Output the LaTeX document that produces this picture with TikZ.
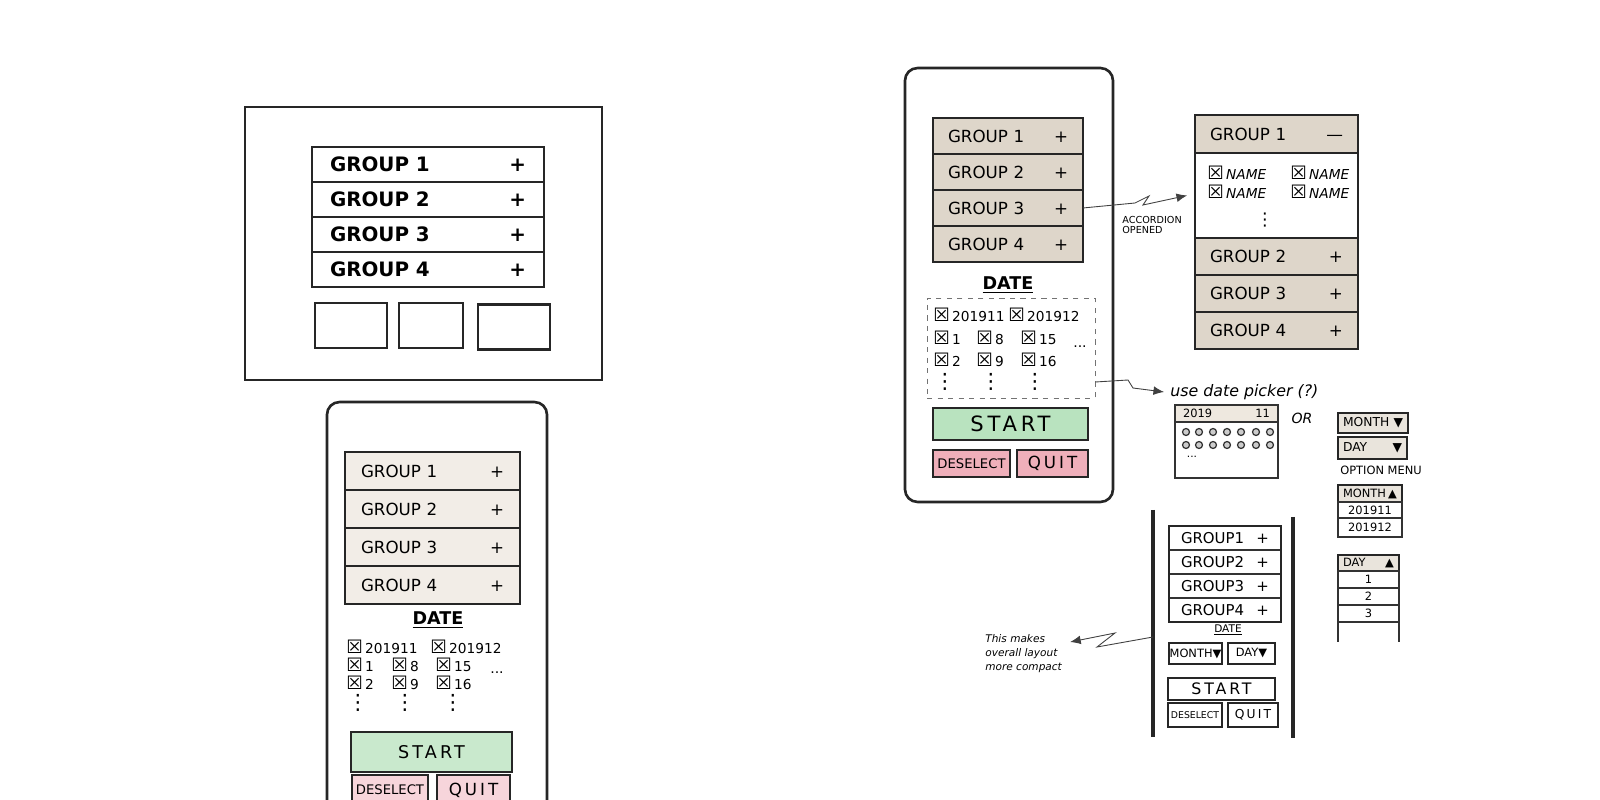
\documentclass[tikz,border=0pt]{standalone}
\usepackage{fontspec}
\setmainfont{DejaVu Sans}
\usepackage{xcolor}
\usepackage{tikz}
\usetikzlibrary{positioning,arrows.meta}

\definecolor{tanfill}{HTML}{DED6CA}
\definecolor{beigefill}{HTML}{F2EDE7}
\definecolor{startfill}{HTML}{C9E9CD}
\definecolor{startfillb}{HTML}{B9E3BF}
\definecolor{stopfill}{HTML}{F7D5DB}
\definecolor{stopfillb}{HTML}{EFAFBA}
\definecolor{optfill}{HTML}{E9E4DC}
\definecolor{calfill}{HTML}{EEE8DF}

\newcommand{\fsz}[1]{\fontsize{#1}{#1}\selectfont}
\newcommand{\spaced}{\addfontfeature{LetterSpace=18}}
\newcommand{\chk}{{\fontsize{10.5}{10}\selectfont ☒}}

\begin{document}
\begin{tikzpicture}[
    x=0.02cm, y=-0.02cm,
    font=\fsz{9.5},
    ink/.style={draw=black!85, line width=1.5pt},
    fine/.style={draw=black!80, line width=0.7pt},
    row/.style={ink, outer sep=0pt, inner ysep=0pt, align=left},
    dkrow/.style={row, text width=3.92cm, inner xsep=0.36cm, minimum height=0.7cm, font=\fsz{11.3}\bfseries},
    arow/.style={row, text width=2.86cm, inner xsep=0.32cm, minimum height=0.76cm, fill=beigefill},
    brow/.style={row, text width=2.4cm, inner xsep=0.3cm, minimum height=0.72cm, fill=tanfill},
    prow/.style={row, text width=2.66cm, inner xsep=0.3cm, minimum height=0.74cm, fill=tanfill},
    crow/.style={row, fine, text width=1.76cm, inner xsep=0.24cm, minimum height=0.48cm, font=\fsz{8.5}},
    btn/.style={ink, outer sep=0pt, inner sep=0pt},
    cb/.style={anchor=west, inner sep=0pt, font=\fsz{7.8}},
    vdots/.style={inner sep=0pt, font=\fsz{12}},
    datehead/.style={inner sep=0pt, font=\fsz{10}\bfseries},
    note/.style={draw=black!75, line width=0.5pt, -{Latex[length=6pt, width=5pt]}},
    menu/.style={btn, fill=optfill, align=left, inner xsep=0.1cm, font=\fsz{7}},
    listitem/.style={fine, outer sep=0pt, inner sep=0pt, font=\fsz{6.5}}
  ]
  \useasboundingbox[fill=white] (0,0) rectangle (1600,800);

  % desktop window
  \node[ink, minimum width=7.14cm, minimum height=5.46cm] (desk) at (423.5,243.5) {};
  \node[dkrow] (dg1) at (428,164.5) {GROUP 1\hfill+};
  \node[dkrow, below=0pt of dg1] (dg2) {GROUP 2\hfill+};
  \node[dkrow, below=0pt of dg2] (dg3) {GROUP 3\hfill+};
  \node[dkrow, below=0pt of dg3] (dg4) {GROUP 4\hfill+};
  \node[btn, minimum width=1.44cm, minimum height=0.9cm] (db1) at (351,325.5) {};
  \node[btn, minimum width=1.28cm, minimum height=0.9cm] (db2) at (431,325.5) {};
  \node[btn, minimum width=1.44cm, minimum height=0.9cm] (db3) at (514,327) {};

  % first phone
  \node[ink, rounded corners=0.25cm, minimum width=4.4cm, minimum height=8.56cm] (ph1) at (437,616) {};
  \node[arow] (pa1) at (432.5,471) {GROUP 1\hfill+};
  \node[arow, below=0pt of pa1] (pa2) {GROUP 2\hfill+};
  \node[arow, below=0pt of pa2] (pa3) {GROUP 3\hfill+};
  \node[arow, below=0pt of pa3] (pa4) {GROUP 4\hfill+};
  \node[datehead] (pdate) at (438,620) {\underline{DATE}};
  \node[cb] (pc1) at (346,647) {\chk\,201911};
  \node[cb] (pc2) at (430,647) {\chk\,201912};
  \node[cb] (pc3) at (346,665) {\chk\,1};
  \node[cb] (pc4) at (391,665) {\chk\,8};
  \node[cb] (pc5) at (435,665) {\chk\,15};
  \node[cb] (pc6) at (346,683) {\chk\,2};
  \node[cb] (pc7) at (391,683) {\chk\,9};
  \node[cb] (pc8) at (435,683) {\chk\,16};
  \node[inner sep=0pt, font=\fsz{8}] (pmore) at (497,673) {...};
  \node[vdots] (pv1) at (358,703) {⋮};
  \node[vdots] (pv2) at (405,703) {⋮};
  \node[vdots] (pv3) at (453,703) {⋮};
  \node[btn, fill=startfill, minimum width=3.22cm, minimum height=0.8cm, font=\fsz{10}\spaced] (pstart) at (431.5,752) {START};
  \node[btn, fill=stopfill, minimum width=1.52cm, minimum height=0.6cm, font=\fsz{7.5}] (pdesel) at (390,790) {DESELECT};
  \node[btn, fill=stopfill, minimum width=1.46cm, minimum height=0.6cm, font=\fsz{9.5}\spaced] (pquit) at (473.5,790) {QUIT};

  % second phone
  \node[ink, rounded corners=0.25cm, minimum width=4.16cm, minimum height=8.68cm] (ph2) at (1009,285) {};
  \node[brow] (bg1) at (1008,136) {GROUP 1\hfill+};
  \node[brow, below=0pt of bg1] (bg2) {GROUP 2\hfill+};
  \node[brow, below=0pt of bg2] (bg3) {GROUP 3\hfill+};
  \node[brow, below=0pt of bg3] (bg4) {GROUP 4\hfill+};
  \node[datehead] (bdate) at (1008,285) {\underline{DATE}};
  \node[draw=black!55, dashed, line width=0.5pt, minimum width=3.36cm, minimum height=2cm] (dbox) at (1011,348) {};
  \node[cb] (bc1) at (933,315) {\chk\,201911};
  \node[cb] (bc2) at (1008,315) {\chk\,201912};
  \node[cb] (bc3) at (933,338) {\chk\,1};
  \node[cb] (bc4) at (976,338) {\chk\,8};
  \node[cb] (bc5) at (1020,338) {\chk\,15};
  \node[cb] (bc6) at (933,360) {\chk\,2};
  \node[cb] (bc7) at (976,360) {\chk\,9};
  \node[cb] (bc8) at (1020,360) {\chk\,16};
  \node[inner sep=0pt, font=\fsz{8}] (bmore) at (1080,347) {...};
  \node[vdots] (bv1) at (945,382) {⋮};
  \node[vdots] (bv2) at (991,382) {⋮};
  \node[vdots] (bv3) at (1035,382) {⋮};
  \node[btn, fill=startfillb, minimum width=3.1cm, minimum height=0.64cm, font=\fsz{12}\spaced] (bstart) at (1010.5,424) {START};
  \node[btn, fill=stopfillb, minimum width=1.54cm, minimum height=0.54cm, font=\fsz{7.5}] (bdesel) at (971.5,463.5) {DESELECT};
  \node[btn, fill=stopfillb, minimum width=1.42cm, minimum height=0.54cm, font=\fsz{9.5}\spaced] (bquit) at (1052.5,463.5) {QUIT};

  % accordion opened
  \node[prow, minimum height=0.76cm] (pg1) at (1276.5,134) {GROUP 1\hfill—};
  \node[ink, outer sep=0pt, minimum width=3.26cm, minimum height=1.7cm, below=0pt of pg1] (pnm) {};
  \node[prow, below=0pt of pnm] (pg2) {GROUP 2\hfill+};
  \node[prow, below=0pt of pg2] (pg3) {GROUP 3\hfill+};
  \node[prow, below=0pt of pg3] (pg4) {GROUP 4\hfill+};
  \node[cb] (pn1) at (1207,173) {\chk\,\textit{NAME}};
  \node[cb] (pn2) at (1290,173) {\chk\,\textit{NAME}};
  \node[cb] (pn3) at (1207,192) {\chk\,\textit{NAME}};
  \node[cb] (pn4) at (1290,192) {\chk\,\textit{NAME}};
  \node[vdots, font=\fsz{10}] (pnv) at (1265,220) {⋮};
  \node[anchor=north west, align=left, inner sep=0pt, font=\fsz{5.5}] (accl) at (1122,216) {ACCORDION\\OPENED};
  \draw[note] (bg3.east) -- (1135,203) -- (1149,196) -- (1143,205) -- ([xshift=-0.16cm]pnm.west);

  % date picker
  \node[anchor=west, inner sep=0pt, font=\fsz{9}\itshape] (dpk) at (1170,392) {use date picker (?)};
  \draw[note] ([yshift=-0.68cm]dbox.east) -- (1128,380) -- (1133,388) -- ([xshift=-0.12cm]dpk.west);
  \node[fine, fill=calfill, outer sep=0pt, text width=1.74cm, inner xsep=0.16cm, inner ysep=0pt, minimum height=0.34cm, align=left, font=\fsz{6.5}] (calh) at (1226.5,413.5) {2019\hfill 11};
  \node[fine, outer sep=0pt, minimum width=2.06cm, minimum height=1.12cm, below=0pt of calh] (calb) {};
  \foreach \cx in {1186,1199,1213,1227,1241,1256,1270}
    \foreach \cy in {432,445}
      \draw[fine, fill=black!20] (\cx,\cy) circle[radius=0.07cm];
  \node[inner sep=0pt, font=\fsz{6}] (calm) at (1192,457) {...};
  \node[font=\fsz{8}\itshape] (orword) at (1302,418) {OR};

  % option menus
  \node[menu, text width=1.2cm, minimum height=0.4cm] (om1) at (1373,423) {MONTH\hfill▼};
  \node[menu, text width=1.18cm, minimum height=0.44cm] (om2) at (1372.5,448) {DAY\hfill▼};
  \node[font=\fsz{6.5}] (optlbl) at (1381,470) {OPTION MENU};
  \node[menu, text width=1.08cm, minimum height=0.34cm, font=\fsz{6.5}] (ml0) at (1370,493.5) {MONTH\hfill▲};
  \node[listitem, minimum width=1.28cm, minimum height=0.32cm, below=0pt of ml0] (ml1) {201911};
  \node[listitem, minimum width=1.28cm, minimum height=0.38cm, below=0pt of ml1] (ml2) {201912};
  \node[menu, text width=1.02cm, minimum height=0.32cm, font=\fsz{6.5}] (dl0) at (1368.5,563) {DAY\hfill▲};
  \node[listitem, minimum width=1.22cm, minimum height=0.34cm, below=0pt of dl0] (dl1) {1};
  \node[listitem, minimum width=1.22cm, minimum height=0.34cm, below=0pt of dl1] (dl2) {2};
  \node[listitem, minimum width=1.22cm, minimum height=0.34cm, below=0pt of dl2] (dl3) {3};
  \draw[fine] (dl3.south west) -- ++(0,20);
  \draw[fine] (dl3.south east) -- ++(0,20);

  % compact phone
  \draw[ink, line width=2pt] (1153,510) -- (1153,737);
  \draw[ink, line width=2pt] (1293,517) -- (1293,738);
  \coordinate (ph3l) at (1153,637);
  \node[crow] (cg1) at (1225,538) {GROUP1\hfill+};
  \node[crow, below=0pt of cg1] (cg2) {GROUP2\hfill+};
  \node[crow, below=0pt of cg2] (cg3) {GROUP3\hfill+};
  \node[crow, below=0pt of cg3] (cg4) {GROUP4\hfill+};
  \draw[ink] (cg1.north west) rectangle (cg4.south east);
  \node[inner sep=0pt, font=\fsz{6}] (cdate) at (1228,630) {\underline{DATE}};
  \node[btn, minimum width=1.06cm, minimum height=0.42cm, font=\fsz{6.5}] (cmon) at (1195.5,653.5) {MONTH▼};
  \node[btn, minimum width=0.94cm, minimum height=0.42cm, font=\fsz{6.5}] (cday) at (1251.5,653.5) {DAY▼};
  \node[btn, line width=1pt, minimum width=2.14cm, minimum height=0.44cm, font=\fsz{9}\spaced] (cstart) at (1221.5,689) {START};
  \node[btn, minimum width=1.08cm, minimum height=0.48cm, font=\fsz{5.3}] (cdesel) at (1195,715) {DESELECT};
  \node[btn, line width=1pt, minimum width=1cm, minimum height=0.48cm, font=\fsz{7}\spaced] (cquit) at (1253,715) {QUIT};
  \node[anchor=north west, align=left, inner sep=0pt, font=\fontsize{6}{8}\selectfont\itshape] (cnote) at (985,634) {This makes\\overall layout\\more compact};
  \draw[note] (ph3l) -- (1097,647) -- (1115,633) -- ([shift={(8,8)}]cnote.north east);
\end{tikzpicture}
\end{document}
